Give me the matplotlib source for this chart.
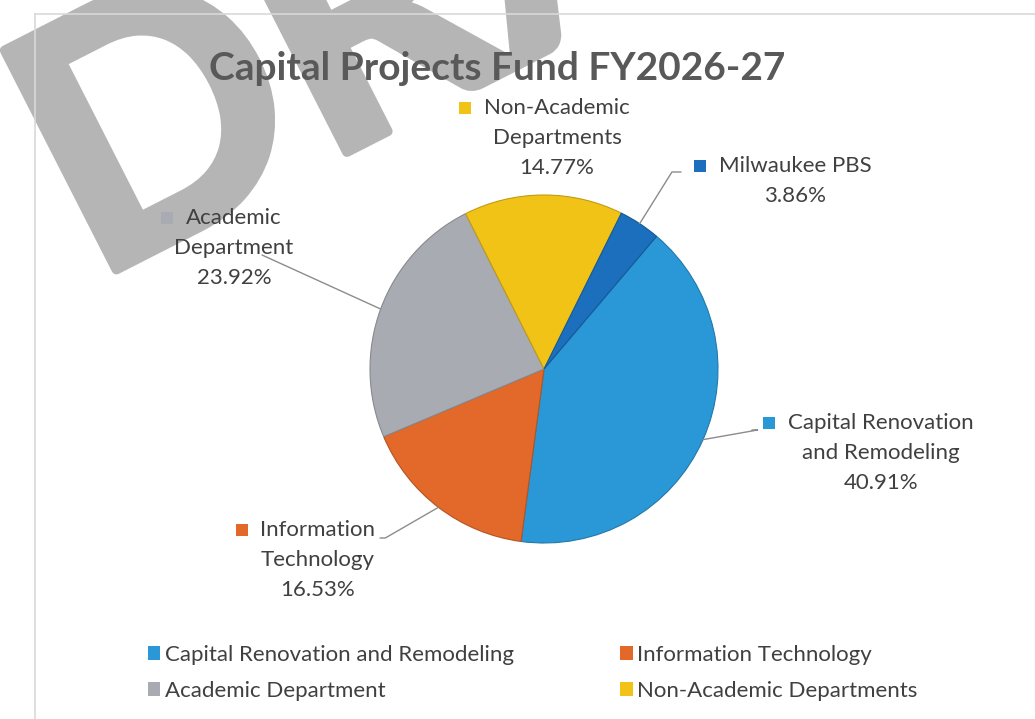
import matplotlib
matplotlib.use("Agg")
import matplotlib.pyplot as plt
import matplotlib.patheffects as pe
import numpy as np
from matplotlib.patches import Rectangle

# data
CATEGORIES = [
    "Capital Renovation and Remodeling",
    "Information Technology",
    "Academic Department",
    "Non-Academic Departments",
    "Milwaukee PBS",
]
SHARES = [40.91, 16.53, 23.92, 14.77, 3.86]
LABEL_LINES = [
    ["Capital Renovation", "and Remodeling"],
    ["Information", "Technology"],
    ["Academic", "Department"],
    ["Non-Academic", "Departments"],
    ["Milwaukee PBS"],
]
COLORS = ["#2a97d6", "#e2692a", "#a9abb3", "#f2c317", "#1b6fbd"]

# layout (pixels)
W, H = 1035, 719
CENTER = (544, 369)
RADIUS = 174
TEXT_COLOR = "#404040"
FONT = ["Lato", "DejaVu Sans"]
LABEL_SIZE = 16
LINE_STEP = 30
# label block: (x center, y of first line, leader end x, leader end y, elbow angle)
LABEL_POS = [
    (881, 423, 752, 430, 10),
    (318, 530, 380, 538, 30),
    (234, 218, 262, 255, None),
    (557, 108, None, None, None),
    (795, 166, 681, 172, 58),
]

fig = plt.figure(figsize=(W / 100, H / 100), dpi=100)
fig.patch.set_facecolor("white")

ax = fig.add_axes([
    (CENTER[0] - RADIUS) / W,
    (H - CENTER[1] - RADIUS) / H,
    2 * RADIUS / W,
    2 * RADIUS / H,
])
wedges, _ = ax.pie(
    SHARES,
    colors=COLORS,
    startangle=90 - 40.3,
    counterclock=False,
    radius=1,
    wedgeprops=dict(linewidth=0.8),
)
for w, c in zip(wedges, COLORS):
    r, g, b = matplotlib.colors.to_rgb(c)
    w.set_edgecolor((r * 0.8, g * 0.8, b * 0.8))
ax.set_xlim(-1, 1)
ax.set_ylim(-1, 1)
ax.set_aspect("equal")
ax.axis("off")


def fx(x):
    return x / W


def fy(y):
    return 1 - y / H


# chart border (top and left only visible)
fig.add_artist(plt.Line2D([fx(35), fx(35)], [fy(14), 0], color="#d9d9d9", lw=1.2))
fig.add_artist(plt.Line2D([fx(35), 1], [fy(14), fy(14)], color="#d9d9d9", lw=1.2))

# watermark, behind the texts
wm_color = "#b5b5b5"
fig.text(fx(92), fy(282), "DRAFT", rotation=27, rotation_mode="anchor",
         ha="left", va="baseline", fontsize=245, fontweight="bold",
         family=["Lato", "DejaVu Sans"], color=wm_color, zorder=1,
         path_effects=[pe.withStroke(linewidth=7, foreground=wm_color)])

fig.text(fx(497), fy(68), "Capital Projects Fund FY2026-27", ha="center", va="center",
         fontsize=28, fontweight="bold", color="#595959", family=FONT, zorder=5)

fig.canvas.draw()
renderer = fig.canvas.get_renderer()
for i, (w, share) in enumerate(zip(wedges, SHARES)):
    cx, ly, ex, ey, ang = LABEL_POS[i]
    lines = LABEL_LINES[i] + [f"{share:.2f}%"]
    first = None
    for k, line in enumerate(lines):
        t = fig.text(fx(cx), fy(ly + k * LINE_STEP), line, ha="center", va="center",
                     fontsize=LABEL_SIZE, color=TEXT_COLOR, family=FONT, zorder=5)
        if k == 0:
            first = t
    bb = first.get_window_extent(renderer)
    sq = 12
    fig.add_artist(Rectangle((fx(bb.x0 - 19 - sq / 2), fy(ly) - sq / 2 / H), sq / W, sq / H,
                             transform=fig.transFigure, facecolor=COLORS[i],
                             edgecolor="none", zorder=5))
    if ex is None:
        continue
    mid = np.deg2rad((w.theta1 + w.theta2) / 2)
    xy = (np.cos(mid), np.sin(mid))
    if ang is None:
        cs = "arc3"
    else:
        cs = f"angle,angleA=0,angleB={ang},rad=0"
    ax.annotate("", xy=xy, xycoords="data", xytext=(ex, H - ey),
                textcoords="figure pixels",
                arrowprops=dict(arrowstyle="-", color="#8c8c8c", lw=1,
                                connectionstyle=cs, shrinkA=0, shrinkB=0))

# legend (bottom, row-wise order)
order = [0, 2, 1, 3]
leg = fig.legend([wedges[k] for k in order], [CATEGORIES[k] for k in order],
                 ncol=2, loc="upper left", bbox_to_anchor=(fx(128), fy(625)),
                 frameon=False, handlelength=0.55, handleheight=0.55,
                 handletextpad=0.22, columnspacing=4.78, labelspacing=0.72,
                 prop={"family": FONT, "size": LABEL_SIZE})
for t in leg.get_texts():
    t.set_color(TEXT_COLOR)
for h in leg.legend_handles:
    h.set_edgecolor("none")

fig.savefig("out.png", dpi=100, facecolor="white")
